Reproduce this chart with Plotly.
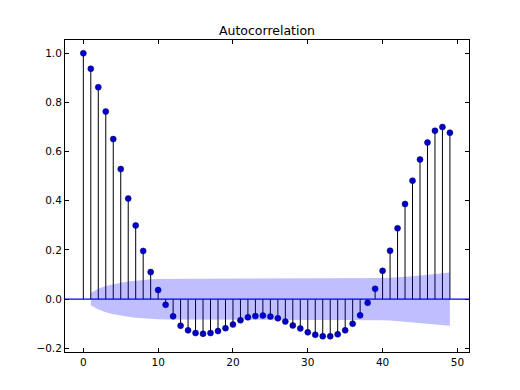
import plotly.graph_objects as go

lags = list(range(50))
acf_values = [1.000, 0.937, 0.862, 0.763, 0.651, 0.529, 0.409, 0.300, 0.196, 0.110,
              0.037, -0.023, -0.070, -0.108, -0.127, -0.138, -0.141, -0.138, -0.130, -0.118,
              -0.103, -0.086, -0.074, -0.069, -0.067, -0.071, -0.078, -0.091, -0.107, -0.119,
              -0.135, -0.145, -0.151, -0.151, -0.143, -0.127, -0.100, -0.066, -0.015, 0.042,
              0.115, 0.197, 0.288, 0.387, 0.482, 0.568, 0.637, 0.685, 0.700, 0.677]
band_lags = list(range(1, 50))
band_half = [0.025, 0.042, 0.053, 0.061, 0.067, 0.072, 0.076, 0.079, 0.081, 0.082,
             0.083, 0.083, 0.083, 0.083, 0.083, 0.083, 0.083, 0.084, 0.084, 0.084,
             0.084, 0.084, 0.084, 0.084, 0.084, 0.084, 0.084, 0.085, 0.085, 0.085,
             0.085, 0.085, 0.085, 0.086, 0.086, 0.086, 0.086, 0.086, 0.086, 0.086,
             0.087, 0.088, 0.090, 0.093, 0.096, 0.099, 0.102, 0.105, 0.108]
x_ticks = [0, 10, 20, 30, 40, 50]
y_ticks = [-0.2, 0.0, 0.2, 0.4, 0.6, 0.8, 1.0]

fig = go.Figure()

# stems
sx, sy = [], []
for k, v in zip(lags, acf_values):
    sx += [k, k, None]
    sy += [0, v, None]
fig.add_trace(go.Scatter(x=sx, y=sy, mode="lines",
                         line=dict(color="black", width=1), hoverinfo="skip"))

# markers
fig.add_trace(go.Scatter(x=lags, y=acf_values, mode="markers",
                         marker=dict(color="rgb(0,0,200)", size=6,
                                     line=dict(color="rgb(0,0,90)", width=0.5))))

# confidence band
upper = band_half
lower = [-h for h in band_half]
fig.add_trace(go.Scatter(x=band_lags + band_lags[::-1], y=upper + lower[::-1],
                         mode="lines", fill="toself",
                         fillcolor="rgba(0,0,255,0.25)",
                         line=dict(width=0), hoverinfo="skip"))

# zero line
fig.add_shape(type="line", xref="paper", x0=0, x1=1, yref="y", y0=0, y1=0,
              line=dict(color="rgb(0,0,255)", width=1.2))

axis_common = dict(showgrid=False, zeroline=False, showline=True, linecolor="black",
                   linewidth=1, mirror="ticks", ticks="inside", ticklen=4,
                   tickcolor="black", tickfont=dict(size=10.5, color="black",
                                                    family="DejaVu Sans"))
fig.update_xaxes(range=[-2.45, 51.55], tickvals=x_ticks,
                 ticktext=[str(t) for t in x_ticks], **axis_common)
fig.update_yaxes(range=[-0.215, 1.054], tickvals=y_ticks,
                 ticktext=["\u22120.2", "0.0", "0.2", "0.4", "0.6", "0.8", "1.0"],
                 **axis_common)

fig.update_layout(
    width=520, height=390,
    margin=dict(l=57, r=59, t=32, b=46),
    paper_bgcolor="white", plot_bgcolor="white",
    showlegend=False,
    title=dict(text="Autocorrelation", x=(267 - 8) / 520 + 0.0, xanchor="center",
               y=1 - 23 / 390, yanchor="middle",
               font=dict(family="DejaVu Sans", size=12.5, color="black")),
    font=dict(family="DejaVu Sans"),
)

fig.write_html("out.html")
